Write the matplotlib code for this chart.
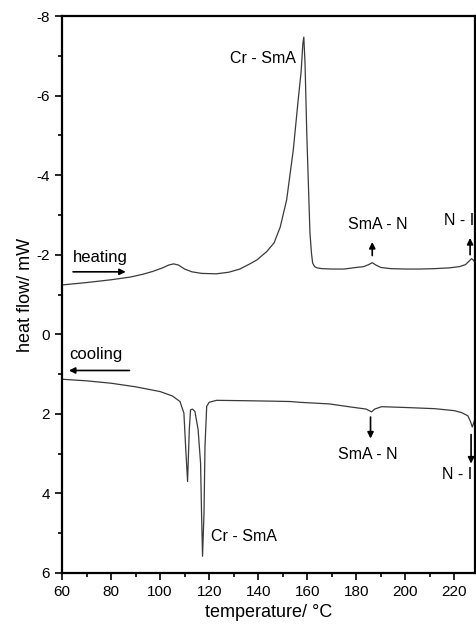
"""DSC thermogram: heating and cooling traces with phase transitions."""

import matplotlib
matplotlib.use("Agg")
import matplotlib.pyplot as plt
from matplotlib.ticker import MultipleLocator

plt.rcParams["font.family"] = ["Liberation Sans", "DejaVu Sans"]
plt.rcParams["axes.unicode_minus"] = False

# heating trace (temperature in C, heat flow in mW)
heat_t = [60, 70, 80, 88, 93, 97, 101, 103.5, 105.5, 107.5,
          110, 113, 117, 123, 128, 132.5, 136, 139.5, 143.5, 146.5,
          149, 151.6, 154.3, 156.3, 157.5, 158.2, 158.6, 159.1, 159.8, 160.5,
          161.1, 161.7, 162.2, 163, 164, 166, 170, 175, 180, 183,
          185, 186.5, 188, 190, 194, 200, 206, 212, 218, 222,
          224.5, 226, 227, 227.8, 228.5]
heat_q = [-1.24, -1.30, -1.37, -1.44, -1.51, -1.58, -1.67, -1.74, -1.77, -1.74,
          -1.64, -1.57, -1.53, -1.52, -1.56, -1.64, -1.75, -1.87, -2.08, -2.30,
          -2.70, -3.38, -4.63, -5.89, -6.60, -7.30, -7.47, -6.80, -5.06, -3.70,
          -2.55, -2.05, -1.79, -1.70, -1.67, -1.65, -1.64, -1.64, -1.68, -1.70,
          -1.75, -1.80, -1.74, -1.68, -1.65, -1.64, -1.64, -1.65, -1.67, -1.70,
          -1.75, -1.84, -1.90, -1.86, -1.80]

# cooling trace
cool_t = [60, 70, 80, 90, 100, 105, 108.1, 109.7, 110.4, 111.2,
          111.9, 112.4, 113.2, 114.2, 115.5, 116.5, 116.9, 117.3, 117.9, 118.3,
          119.0, 120.0, 123.0, 135, 145, 153, 157, 169, 178, 184,
          186.2, 187.5, 190.3, 200, 212, 220, 223, 225.5, 226.6, 227.3,
          228, 228.5]
cool_q = [1.13, 1.17, 1.23, 1.32, 1.44, 1.55, 1.69, 1.98, 2.82, 3.70,
          2.40, 1.90, 1.88, 1.94, 2.40, 3.24, 4.50, 5.58, 4.50, 2.82,
          1.81, 1.71, 1.66, 1.67, 1.68, 1.69, 1.71, 1.75, 1.83, 1.88,
          1.95, 1.88, 1.82, 1.84, 1.87, 1.92, 1.97, 2.05, 2.20, 2.33,
          2.20, 2.10]

# transition labels: (text, x, y)
labels = [
    ("Cr - SmA", 142, -6.94),
    ("SmA - N", 188.9, -2.75),
    ("N - I", 222.0, -2.87),
    ("SmA - N", 184.8, 3.03),
    ("N - I", 221.0, 3.53),
    ("Cr - SmA", 134.2, 5.08),
]
# short arrows: (x, y_tail, y_head)
marks = [
    (186.5, -1.98, -2.32),
    (226.4, -2.00, -2.42),
    (185.8, 2.08, 2.62),
    (226.8, 2.52, 3.25),
]

fig = plt.figure(figsize=(4.77, 6.28), dpi=100)
ax = fig.add_axes([0.130, 0.0876, 0.8658, 0.8869])

line_kw = dict(color="#3a3a3a", linewidth=0.9)
ax.plot(heat_t, heat_q, **line_kw)
ax.plot(cool_t, cool_q, **line_kw)

for text, x, y in labels:
    ax.text(x, y, text, ha="center", va="center", fontsize=11.5, zorder=1)

arrow_kw = dict(arrowstyle="-|>", color="black", lw=1.2, mutation_scale=9,
                shrinkA=0, shrinkB=0)
for x, y0, y1 in marks:
    ax.annotate("", xy=(x, y1), xytext=(x, y0), arrowprops=arrow_kw)

# heating / cooling direction
ax.text(64.5, -1.92, "heating", ha="left", va="center", fontsize=12)
ax.annotate("", xy=(86.0, -1.57), xytext=(64.5, -1.57), arrowprops=arrow_kw)
ax.text(63.0, 0.52, "cooling", ha="left", va="center", fontsize=12)
ax.annotate("", xy=(62.8, 0.91), xytext=(87.5, 0.91), arrowprops=arrow_kw)

ax.set_xlim(60, 228.4)
ax.set_ylim(6, -8)
ax.xaxis.set_major_locator(MultipleLocator(20))
ax.xaxis.set_minor_locator(MultipleLocator(10))
ax.yaxis.set_major_locator(MultipleLocator(2))
ax.yaxis.set_minor_locator(MultipleLocator(1))
ax.tick_params(which="both", direction="out", labelsize=11, width=1.2)
ax.tick_params(which="major", length=5)
ax.tick_params(which="minor", length=3)
for side in ["left", "bottom", "top", "right"]:
    ax.spines[side].set_linewidth(1.6)

ax.set_xlabel("temperature/ °C", fontsize=13, labelpad=4)
ax.set_ylabel("heat flow/ mW", fontsize=13, labelpad=2)

fig.savefig("out.png", dpi=100)
plt.close(fig)
